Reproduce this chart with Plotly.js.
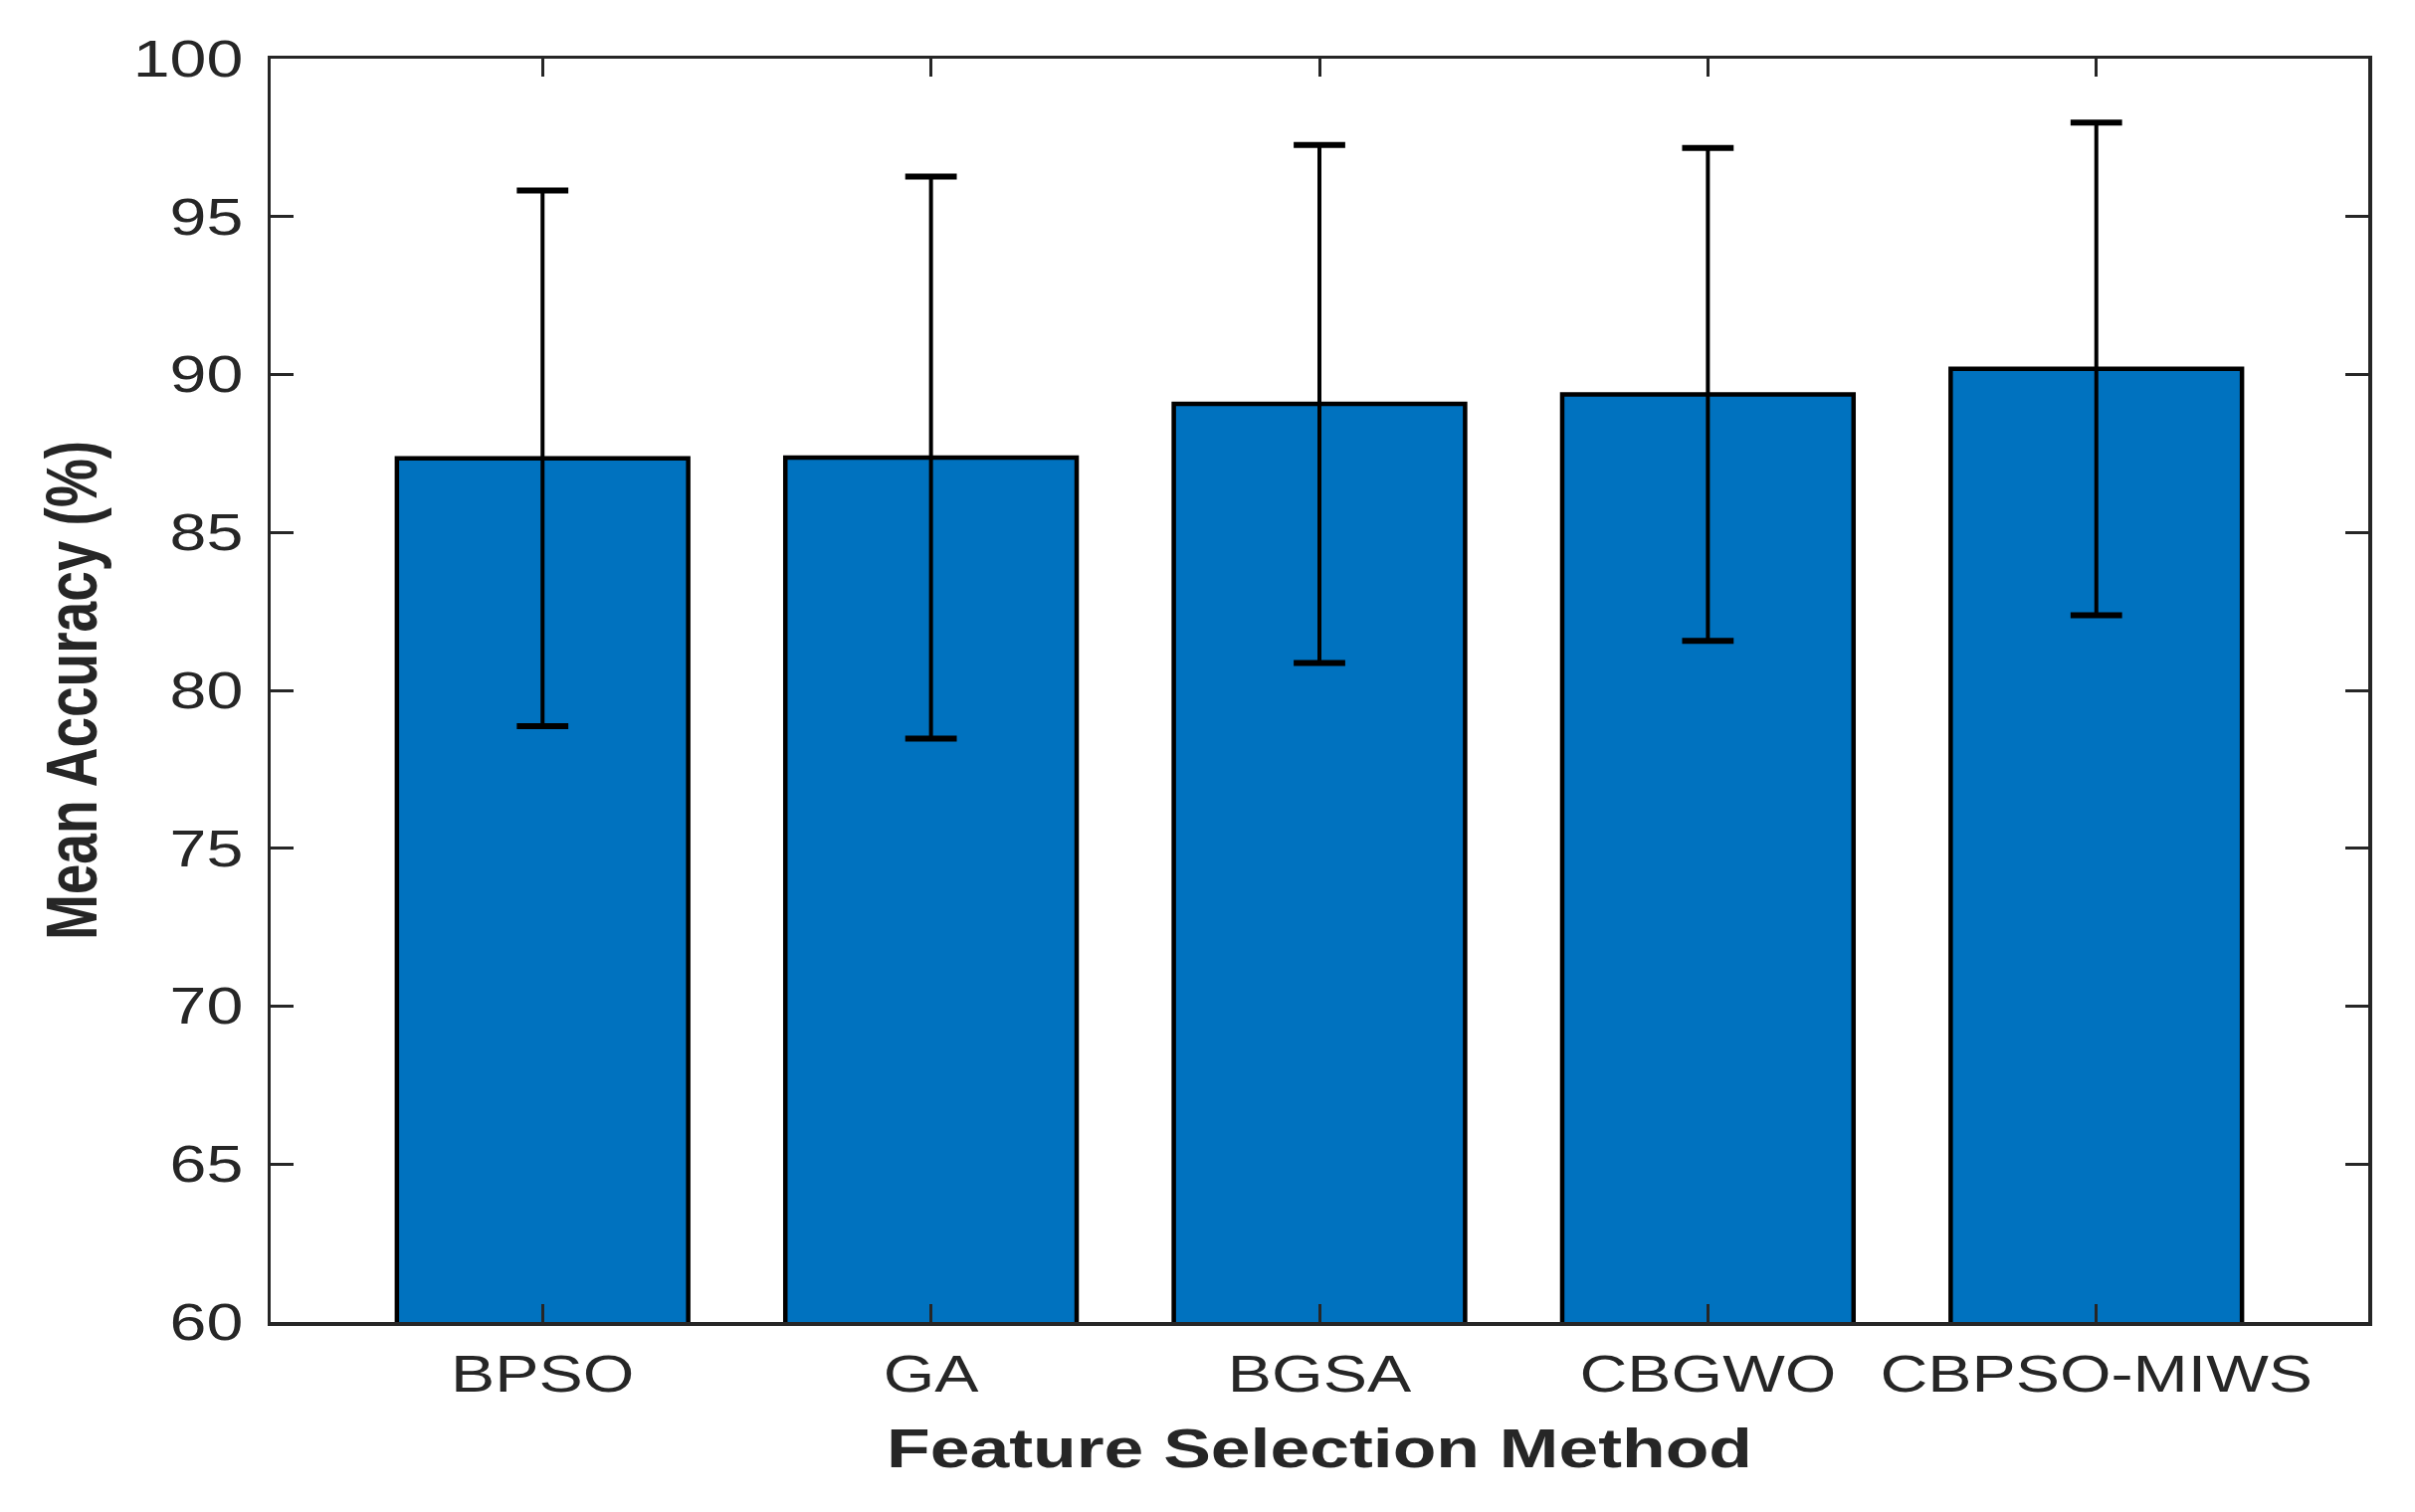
<!DOCTYPE html>
<html>
<head>
<meta charset="utf-8">
<script src="https://cdn.plot.ly/plotly-3.0.1.min.js"></script>
<style>
  html, body { margin: 0; padding: 0; background: #ffffff; }
  #chart { width: 2427px; height: 1520px; }
</style>
</head>
<body>
<div id="chart"></div>
<script>
// Data
const methods = ["BPSO", "GA", "BGSA", "CBGWO", "CBPSO-MIWS"];
const meanAccuracy = [87.35, 87.37, 89.07, 89.37, 90.18];
const stdAccuracy = [8.48, 8.9, 8.2, 7.8, 7.8];
const yTickValues = [60, 65, 70, 75, 80, 85, 90, 95, 100];

const axisColor = "#262626";
const fontFamily = "'Liberation Sans', Arial, Helvetica, sans-serif";
const xIdx = methods.map((m, i) => i);

const barTrace = {
  type: "bar",
  x: xIdx,
  y: meanAccuracy,
  width: 0.75,
  marker: { color: "#0072BF", line: { color: "#000000", width: 4.5 } },
  error_y: {
    type: "data",
    array: stdAccuracy,
    visible: true,
    color: "#000000",
    thickness: 4,
    width: 18
  },
  hoverinfo: "skip"
};

// Thicker caps on the error bars (as in the reference), placed at mean ± std
const capTrace = {
  type: "scatter",
  mode: "markers",
  x: xIdx.concat(xIdx),
  y: meanAccuracy.map((m, i) => m + stdAccuracy[i]).concat(meanAccuracy.map((m, i) => m - stdAccuracy[i])),
  marker: { symbol: "line-ew", size: 37, color: "#000000", line: { color: "#000000", width: 6 } },
  hoverinfo: "skip"
};

const layout = {
  width: 2427,
  height: 1520,
  margin: { l: 272, r: 47, t: 59, b: 191 },
  paper_bgcolor: "#ffffff",
  plot_bgcolor: "#ffffff",
  showlegend: false,
  font: { family: fontFamily, color: axisColor, size: 51 },
  xaxis: {
    range: [-0.7, 4.7],
    tickmode: "array",
    tickvals: xIdx,
    ticktext: methods,
    ticks: "inside",
    ticklen: 18,
    tickwidth: 3,
    tickcolor: axisColor,
    showline: true,
    linecolor: axisColor,
    linewidth: 3.5,
    mirror: "ticks",
    showgrid: false,
    zeroline: false,
    tickfont: { family: fontFamily, size: 51, color: axisColor },
    ticklabelstandoff: 5,
    title: {
      text: "<b>Feature Selection Method</b>",
      font: { family: fontFamily, size: 55, color: axisColor },
      standoff: 29
    }
  },
  yaxis: {
    range: [60, 100],
    tickmode: "array",
    tickvals: yTickValues,
    ticktext: yTickValues.map(String),
    ticks: "inside",
    ticklen: 23,
    tickwidth: 3,
    tickcolor: axisColor,
    showline: true,
    linecolor: axisColor,
    linewidth: 3.5,
    mirror: "ticks",
    showgrid: false,
    zeroline: false,
    tickfont: { family: fontFamily, size: 51, color: axisColor },
    ticklabelstandoff: 14,
    title: {
      text: "<b>Mean Accuracy (%)</b>",
      font: { family: fontFamily, size: 55, color: axisColor },
      standoff: 50
    }
  }
};

Plotly.newPlot("chart", [barTrace, capTrace], layout, { displayModeBar: false, staticPlot: true }).then(function () {
  // The reference figure is horizontally stretched; widen horizontal texts accordingly.
  const stretch = 1.3;
  document.querySelectorAll(".xtick text, .ytick text, .g-xtitle text").forEach(function (el) {
    const w = el.getComputedTextLength();
    el.setAttribute("textLength", (w * stretch).toFixed(1));
    el.setAttribute("lengthAdjust", "spacingAndGlyphs");
  });
  // Rotated y title: widen its glyph height (screen x direction).
  document.querySelectorAll(".g-ytitle text").forEach(function (el) {
    const bb = el.getBBox();
    const cy = bb.y + bb.height / 2;
    const t = el.getAttribute("transform") || "";
    el.setAttribute("transform", t + " translate(0," + cy + ") scale(1," + stretch + ") translate(0," + (-cy) + ")");
  });
});
</script>
</body>
</html>
